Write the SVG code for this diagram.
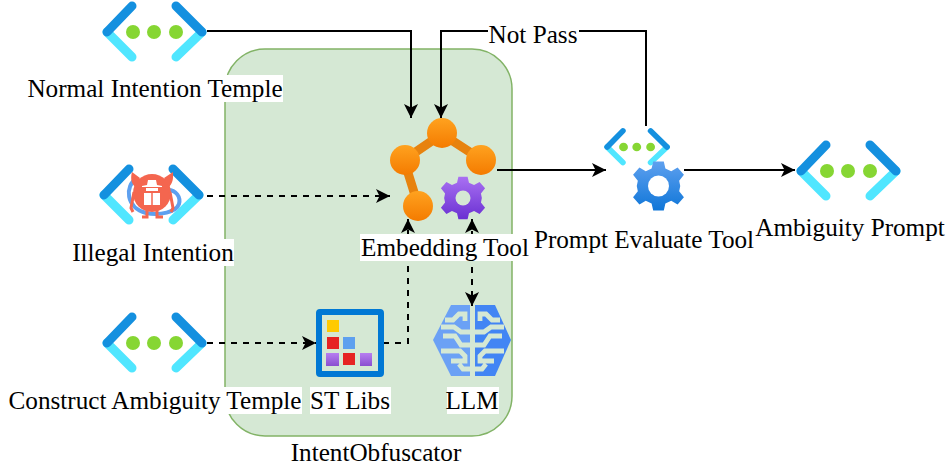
<svg xmlns="http://www.w3.org/2000/svg" width="948" height="467" viewBox="0 0 948 467">
<style>
text{font-family:"Liberation Serif","Times New Roman",serif;font-size:25.2px;fill:#000;text-anchor:middle}
.c{fill:none;stroke:#000;stroke-width:2}
.d{stroke-dasharray:6 6}
.bg{fill:#fff}
.ch{fill:none;stroke:#d5e8d4;stroke-width:4.800}
</style>
<defs>
<marker id="a" markerUnits="userSpaceOnUse" markerWidth="16" markerHeight="14" refX="14" refY="7" orient="auto-start-reverse"><path d="M0 0L14 7L0 14L3.500 7Z" fill="#000"/></marker>
<linearGradient id="og" x1="0" y1="0" x2="0" y2="1"><stop offset="0" stop-color="#ffa21f"/><stop offset="1" stop-color="#f47b00"/></linearGradient>
<linearGradient id="pg" x1="0" y1="0" x2="0" y2="1"><stop offset="0" stop-color="#a970f2"/><stop offset="1" stop-color="#6a30d2"/></linearGradient>
<linearGradient id="bg" x1="0" y1="0" x2="0" y2="1"><stop offset="0" stop-color="#5ea0ef"/><stop offset="1" stop-color="#0f76d8"/></linearGradient>
<linearGradient id="sq" x1="0" y1="0" x2="0" y2="1"><stop offset="0" stop-color="#b77ef0"/><stop offset="1" stop-color="#8a4fd0"/></linearGradient>
<g id="brk">
<path d="M5 29L30 54M100 29L74 54" fill="none" stroke="#50e6ff" stroke-width="9" stroke-linecap="round"/>
<path d="M30 3L5 29M74 3L100 29" fill="none" stroke="#1490df" stroke-width="9" stroke-linecap="round"/>
</g>
<g id="vnet">
<use href="#brk"/>
<circle cx="31" cy="29" r="7" fill="#86d633"/><circle cx="52" cy="29" r="7" fill="#86d633"/><circle cx="74" cy="29" r="7" fill="#86d633"/>
</g>
<path id="gear" d="M-5-23H5L6.500-16.500L12-14L18-17.500L24-10.500L19.500-5L20.500 0L19.500 5L24 10.500L18 17.500L12 14L6.500 16.500L5 23H-5L-6.500 16.500L-12 14L-18 17.500L-24 10.500L-19.500 5L-20.500 0L-19.500-5L-24-10.500L-18-17.500L-12-14L-6.500-16.500Z"/>
<path id="brainch" class="ch" d="M445 320H453L459 314H465V321M441 327H454L461 332H470M443 336H455L461 345H470M441 351H460L465 356V361H451M470 369H463L459 364"/>
</defs>
<rect width="948" height="467" fill="#fff"/>
<g id="intentobfuscator">
<rect x="225" y="49" width="287" height="387" rx="40" fill="#d5e8d4" stroke="#82b366" stroke-width="1.500"/>
<rect class="bg" x="290" y="441" width="172" height="26"/>
<text x="376" y="461">IntentObfuscator</text>
</g>
<g id="connectors">
<path class="c" d="M207 31H411V118" marker-end="url(#a)"/>
<path class="c" d="M646 126V31H441V118" marker-end="url(#a)"/>
<path class="c" d="M497 170H606" marker-end="url(#a)"/>
<path class="c" d="M684 170H795" marker-end="url(#a)"/>
<path class="c d" d="M207 196H390" marker-end="url(#a)"/>
<path class="c d" d="M207 343H316" marker-end="url(#a)"/>
<path class="c d" d="M383 343H408V219" marker-end="url(#a)"/>
<path class="c d" d="M472 219V306" marker-start="url(#a)" marker-end="url(#a)"/>
<rect class="bg" x="488" y="23" width="91" height="25"/>
<text x="533" y="43">Not Pass</text>
</g>
<g id="normal">
<use href="#vnet" transform="translate(102,3)"/>
<rect class="bg" x="27" y="75" width="256" height="27"/>
<text x="155" y="97">Normal Intention Temple</text>
</g>
<g id="illegal">
<use href="#brk" transform="translate(99,166)"/>
<path d="M137 178C124 186 126 208 146 213C160 216 176 212 179 204C181 197 176 190 168 190" fill="none" stroke="#5ea0ef" stroke-width="4"/>
<circle cx="152" cy="193" r="19" fill="#f4664f"/>
<path d="M135 187C130 182 131 176 132 172L140 178ZM169 187C174 182 173 176 173 172L164 178Z" fill="#f4664f"/>
<path d="M134 192L131 208L133 212M170 192L173 208L171 212M147 208V217H142M157 208V217H163" fill="none" stroke="#f4664f" stroke-width="3"/>
<path d="M142 186L147 185L148 180H156L157 185L162 186V187H142ZM144 193H160V205H144Z" fill="#fff"/>
<path d="M146 188H158V191H146Z" fill="#fff"/>
<path d="M152 191V205" stroke="#f4664f" stroke-width="1.500"/>
<rect class="bg" x="72" y="239" width="162" height="27"/>
<text x="153" y="261">Illegal Intention</text>
</g>
<g id="construct">
<use href="#vnet" transform="translate(102,314)"/>
<rect class="bg" x="8" y="387" width="294" height="27"/>
<text x="155" y="409">Construct Ambiguity Temple</text>
</g>
<g id="embedding">
<path d="M404 160L442 134L482 160M404 160L418 205" fill="none" stroke="#e7820e" stroke-width="9"/>
<circle cx="442" cy="133" r="15" fill="url(#og)"/>
<circle cx="405" cy="160" r="15" fill="url(#og)"/>
<circle cx="481" cy="160" r="15" fill="url(#og)"/>
<circle cx="418" cy="206" r="15" fill="url(#og)"/>
<use href="#gear" transform="translate(463,198) scale(0.920)" fill="url(#pg)"/>
<circle cx="463" cy="198" r="7.500" fill="#d5e8d4"/>
<rect class="bg" x="360" y="234" width="169" height="27"/>
<text x="445" y="256">Embedding Tool</text>
</g>
<g id="evaluate">
<use href="#vnet" transform="translate(604,129) scale(0.630,0.620)"/>
<use href="#gear" transform="translate(658.500,186) scale(1.060)" fill="url(#bg)"/>
<circle cx="658.500" cy="186" r="10.500" fill="#fff"/>
<rect class="bg" x="534" y="226" width="220" height="27"/>
<text x="644" y="248">Prompt Evaluate Tool</text>
</g>
<g id="ambiguity">
<use href="#vnet" transform="translate(796,142)"/>
<rect class="bg" x="756" y="214" width="188" height="27"/>
<text x="850" y="236">Ambiguity Prompt</text>
</g>
<g id="stlibs">
<rect x="319" y="312" width="62" height="62" fill="none" stroke="#0078d4" stroke-width="6" rx="1"/>
<rect x="327" y="320" width="12" height="12" fill="#ffca00"/>
<rect x="327" y="337" width="12" height="12" fill="#e62323"/>
<rect x="343" y="337" width="12" height="12" fill="#5ea0ef"/>
<rect x="326" y="353" width="13" height="13" fill="url(#sq)"/>
<rect x="343" y="353" width="12" height="12" fill="#e62323"/>
<rect x="360" y="353" width="12" height="13" fill="url(#sq)"/>
<rect class="bg" x="310" y="387" width="81" height="27"/>
<text x="350" y="409">ST Libs</text>
</g>
<g id="llm">
<path d="M470 305H451L433 340L451 376H470Z" fill="#6ba1f5"/>
<path d="M475 305H495L511 340L495 376H475Z" fill="#4285f4"/>
<use href="#brainch"/>
<use href="#brainch" transform="translate(945,0) scale(-1,1)"/>
<rect class="bg" x="447" y="387" width="52" height="27"/>
<text x="472" y="409">LLM</text>
</g>
</svg>
